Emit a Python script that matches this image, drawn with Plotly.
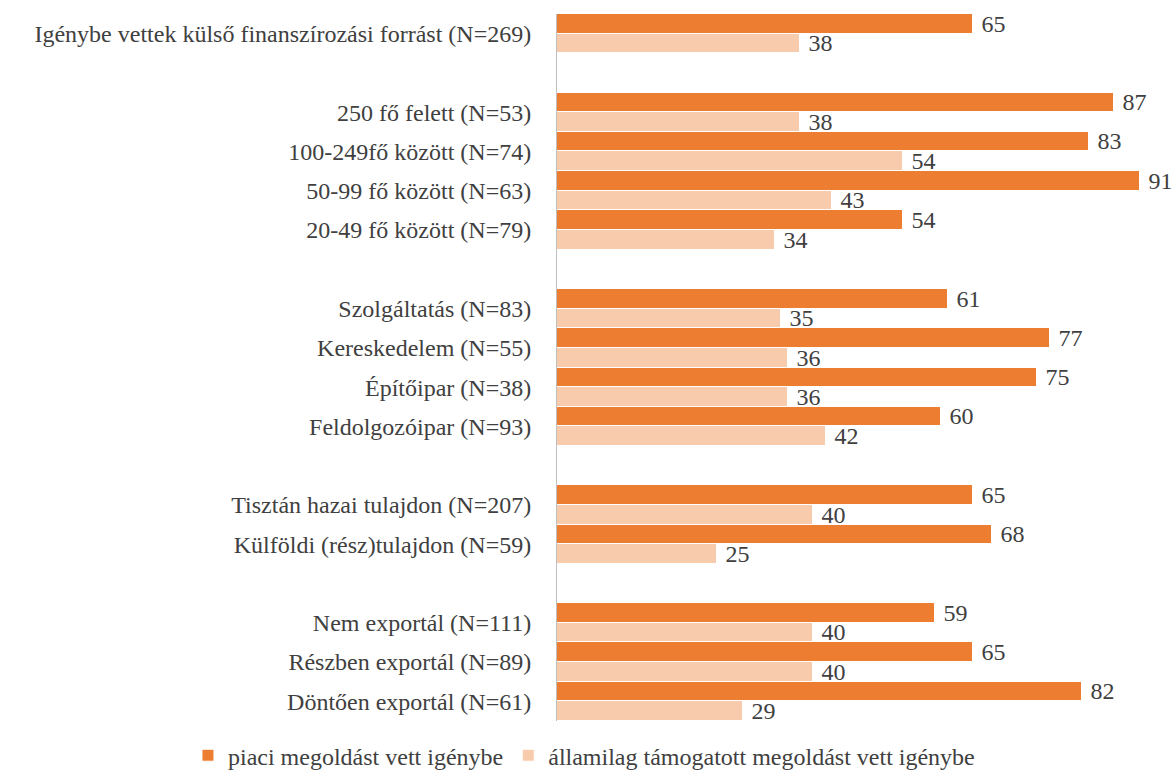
import plotly.graph_objects as go

categories = [
    "Igénybe vettek külső finanszírozási forrást (N=269)",
    " ",
    "250 fő felett (N=53)",
    "100-249fő között (N=74)",
    "50-99 fő között (N=63)",
    "20-49 fő között (N=79)",
    "  ",
    "Szolgáltatás (N=83)",
    "Kereskedelem (N=55)",
    "Építőipar (N=38)",
    "Feldolgozóipar (N=93)",
    "   ",
    "Tisztán hazai tulajdon (N=207)",
    "Külföldi (rész)tulajdon (N=59)",
    "    ",
    "Nem exportál (N=111)",
    "Részben exportál (N=89)",
    "Döntően exportál (N=61)",
]
piaci = [65, None, 87, 83, 91, 54, None, 61, 77, 75, 60, None, 65, 68, None, 59, 65, 82]
allami = [38, None, 38, 54, 43, 34, None, 35, 36, 36, 42, None, 40, 25, None, 40, 40, 29]
series_names = ["piaci megoldást vett igénybe", "államilag támogatott megoldást vett igénybe"]
colors = ["#ED7D31", "#F8CBAD"]

FONT = "Liberation Serif"
TXT = "#404040"
FS = 24

fig = go.Figure()
for name, vals, col in zip(series_names, [piaci, allami], colors):
    fig.add_trace(go.Bar(
        y=categories, x=vals, name=name, orientation="h",
        marker=dict(color=col, line=dict(color="white", width=1)),
        texttemplate=" %{x}",
        textposition="outside", cliponaxis=False, constraintext="none",
        textfont=dict(family=FONT, size=FS, color=TXT),
    ))

fig.update_layout(
    width=1174, height=771,
    margin=dict(l=557, r=15, t=14, b=50, autoexpand=False),
    barmode="group", bargap=0.0, bargroupgap=0.0,
    plot_bgcolor="white", paper_bgcolor="white",
    font=dict(family=FONT, size=FS, color=TXT),
    showlegend=True,
    legend=dict(orientation="h", x=-0.613, xanchor="left", y=-0.049, yanchor="middle",
                font=dict(family=FONT, size=FS, color=TXT), traceorder="normal",
                itemwidth=30),
    xaxis=dict(range=[0, 94], visible=False, showgrid=False, zeroline=False,
               automargin=False),
    yaxis=dict(type="category", categoryorder="array", categoryarray=categories,
               range=[len(categories) - 0.5, -0.5], showline=True,
               linecolor="#BFBFBF", linewidth=1, automargin=False,
               ticks="outside", ticklen=20, tickcolor="rgba(0,0,0,0)",
               showgrid=False, tickfont=dict(family=FONT, size=FS, color=TXT)),
)

fig.write_html("out.html",
               config={"displayModeBar": False},
               post_script="document.body.style.margin='0';document.body.style.overflow='hidden';")
